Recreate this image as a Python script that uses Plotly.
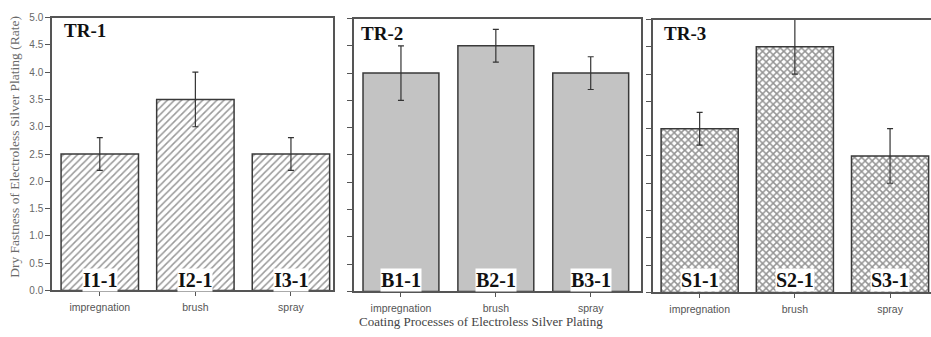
import plotly.graph_objects as go

W, H = 931, 337

categories = ["impregnation", "brush", "spray"]
panel_names = ["TR-1", "TR-2", "TR-3"]
values_tr1 = [2.5, 3.5, 2.5]
errors_tr1 = [0.3, 0.5, 0.3]
values_tr2 = [4.0, 4.5, 4.0]
errors_tr2 = [0.5, 0.3, 0.3]
values_tr3 = [3.0, 4.5, 2.5]
errors_tr3 = [0.3, 0.5, 0.5]
labels_tr1 = ["I1-1", "I2-1", "I3-1"]
labels_tr2 = ["B1-1", "B2-1", "B3-1"]
labels_tr3 = ["S1-1", "S2-1", "S3-1"]
y_ticks = [0.0, 0.5, 1.0, 1.5, 2.0, 2.5, 3.0, 3.5, 4.0, 4.5, 5.0]

def px(x):
    return x / W

def py(y):
    return 1 - y / H

LINE = "#555555"
OUT = "#3a3a3a"

fig = go.Figure()

panels = [
    dict(vals=values_tr1, errs=errors_tr1, labels=labels_tr1,
         pattern=dict(shape="/", fgcolor="#333333", bgcolor="white", size=5, solidity=0.3),
         color="white", width=0.81),
    dict(vals=values_tr2, errs=errors_tr2, labels=labels_tr2,
         pattern=None, color="#c3c3c3", width=0.8),
    dict(vals=values_tr3, errs=errors_tr3, labels=labels_tr3,
         pattern=dict(shape="x", fgcolor="#2a2a2a", bgcolor="white", size=5, solidity=0.5),
         color="white", width=0.81),
]

for i, p in enumerate(panels):
    sfx = "" if i == 0 else str(i + 1)
    marker = dict(color=p["color"], line=dict(color=OUT, width=1.5))
    if p["pattern"] is not None:
        marker["pattern"] = p["pattern"]
    fig.add_trace(go.Bar(
        x=categories, y=p["vals"], width=p["width"],
        marker=marker,
        error_y=dict(type="data", array=p["errs"], visible=True,
                     color="#333333", thickness=1.2, width=3),
        xaxis="x" + sfx, yaxis="y" + sfx, showlegend=False,
    ))

# domains in pixels (left, right, top, bottom) and x ranges
geo = [
    dict(x0=52, x1=333, y0=12, y1=295, xr=[-0.5, 2.44]),
    dict(x0=354, x1=641, y0=13, y1=296, xr=[-0.495, 2.53]),
    dict(x0=653, x1=931, y0=14, y1=297, xr=[-0.49, 2.43]),
]

for i, g in enumerate(geo):
    sfx = "" if i == 0 else str(i + 1)
    xa = dict(domain=[px(g["x0"]), px(g["x1"])], anchor="y" + sfx,
              type="category", categoryorder="array", categoryarray=categories,
              range=g["xr"], showline=True, linecolor=LINE, linewidth=1.5,
              mirror=True, ticks="outside", ticklen=4, tickcolor=LINE,
              showgrid=False, zeroline=False, ticklabelstandoff=2,
              tickfont=dict(family="Liberation Sans", size=10.5, color="#555555"))
    ya = dict(domain=[py(g["y1"]), py(g["y0"])], anchor="x" + sfx,
              range=[0, 5], tickvals=y_ticks, ticktext=[f"{v:.1f}" for v in y_ticks],
              showline=True, linecolor=LINE, linewidth=1.5,
              mirror=(i < 2), ticks="outside", ticklen=5, tickcolor=LINE,
              showgrid=False, zeroline=False, showticklabels=(i == 0),
              tickfont=dict(family="Liberation Sans", size=10, color="#666666"))
    fig.update_layout(**{"xaxis" + sfx: xa, "yaxis" + sfx: ya})

annotations = []
name_pos = [(62, 25), (359, 28), (662, 28)]
for i, (name, (ax, ay)) in enumerate(zip(panel_names, name_pos)):
    annotations.append(dict(
        text="<b>" + name + "</b>", x=px(ax), y=py(ay), xref="paper", yref="paper",
        xanchor="left", yanchor="middle", showarrow=False,
        font=dict(family="Liberation Serif", size=19, color="#111111")))

for i, p in enumerate(panels):
    sfx = "" if i == 0 else str(i + 1)
    for cat, lab in zip(categories, p["labels"]):
        annotations.append(dict(
            text="<b>" + lab + "</b>", x=cat, xref="x" + sfx,
            y=py(284), yref="paper", yanchor="middle", showarrow=False,
            bgcolor="white", borderpad=0,
            font=dict(family="Liberation Serif", size=20, color="#111111")))

annotations.append(dict(
    text="Dry Fastness of Electroless Silver Plating (Rate)",
    x=px(15), y=py(146), xref="paper", yref="paper", textangle=-90,
    showarrow=False, xanchor="center", yanchor="middle",
    font=dict(family="Liberation Serif", size=13.5, color="#6a6a6a")))

annotations.append(dict(
    text="Coating Processes of Electroless Silver Plating",
    x=px(481), y=py(327), xref="paper", yref="paper",
    showarrow=False, xanchor="center", yanchor="middle",
    font=dict(family="Liberation Serif", size=13, color="#444444")))

fig.update_layout(
    width=W, height=H, margin=dict(l=0, r=0, t=0, b=0),
    paper_bgcolor="white", plot_bgcolor="white",
    annotations=annotations, bargap=0.2,
)

fig.write_html("out.html", config={"displayModeBar": False},
               post_script="document.body.style.margin='0';document.body.style.overflow='hidden';")
